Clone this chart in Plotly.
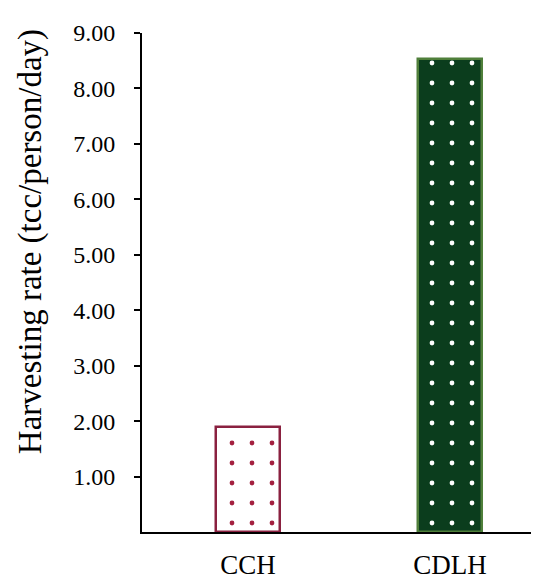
import plotly.graph_objects as go

categories = ["CCH", "CDLH"]
values = [1.89, 8.54]
fill_colors = ["#ffffff", "#0b3d1d"]
dot_colors = ["#a3203f", "#ffffff"]
line_colors = ["#8a2140", "#4f7f3a"]
y_ticks = [1, 2, 3, 4, 5, 6, 7, 8, 9]
y_tick_labels = ["1.00", "2.00", "3.00", "4.00", "5.00", "6.00", "7.00", "8.00", "9.00"]
y_title = "Harvesting rate (tcc/person/day)"

fig = go.Figure()
for i, (c, v) in enumerate(zip(categories, values)):
    fig.add_trace(go.Bar(
        x=[i], y=[v], width=0.32,
        marker=dict(
            color=fill_colors[i],
            line=dict(color=line_colors[i], width=2.5),
            pattern=dict(shape=".", fgcolor=dot_colors[i], bgcolor=fill_colors[i],
                         size=20, solidity=0.045, fillmode="replace"),
        ),
        showlegend=False,
    ))

font = "Liberation Serif, DejaVu Serif, serif"
fig.update_layout(
    width=531, height=574,
    margin=dict(l=134, r=0, t=25, b=50),
    plot_bgcolor="white", paper_bgcolor="white",
    font=dict(family=font, color="black"),
    bargap=0,
    xaxis=dict(
        range=[-0.525, 1.44],
        tickvals=[0, 1], ticktext=categories,
        showline=True, linecolor="black", linewidth=2,
        ticks="", ticklabelstandoff=8,
        tickfont=dict(size=27, family=font),
        showgrid=False, zeroline=False,
    ),
    yaxis=dict(
        range=[0, 9],
        tickvals=y_ticks, ticktext=y_tick_labels,
        showline=True, linecolor="black", linewidth=2,
        ticks="outside", ticklen=6, tickwidth=1.5, tickcolor="black",
        ticklabelstandoff=14,
        tickfont=dict(size=24, family=font),
        showgrid=False, zeroline=False,
    ),
    annotations=[dict(
        text=y_title, textangle=-90, showarrow=False,
        xref="paper", yref="paper", x=-0.282, y=0.581,
        xanchor="center", yanchor="middle",
        font=dict(size=33, family=font, color="black"),
    )],
)
fig.write_html("out.html")
